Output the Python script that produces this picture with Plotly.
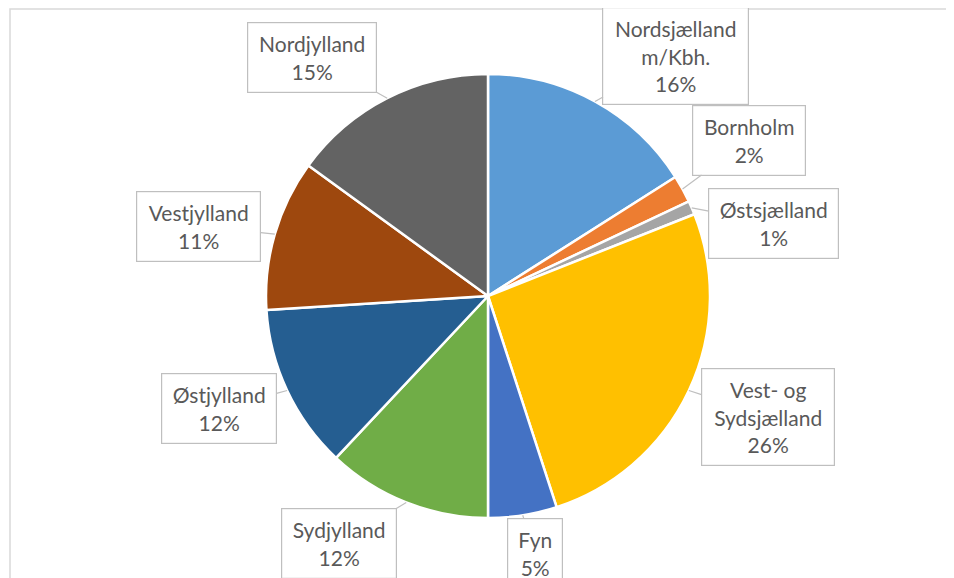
import math
import plotly.graph_objects as go

# regions and shares (%)
regions = ['Nordsjælland<br>m/Kbh.', 'Bornholm', 'Østsjælland', 'Vest- og<br>Sydsjælland',
           'Fyn', 'Sydjylland', 'Østjylland', 'Vestjylland', 'Nordjylland']
shares = [16, 2, 1, 26, 5, 12, 12, 11, 15]
colors = ['#5B9BD5', '#ED7D31', '#A5A5A5', '#FFC000', '#4472C4',
          '#70AD47', '#255E91', '#9E480E', '#636363']

# callout box offsets (px, from slice edge to box centre) and box widths
label_dx = [81, 66, 82, 79, 12, -67, -68, -76, -75]
label_dy = [-45, -49, 16, 26, 38, 41, 18, -8, -41]
box_w = [147, 114, 131, 134, 56, 116, 116, 125, 130]

# page body has an 8px margin: make the figure 8px larger so it still
# reaches the window edge, and use figure coords = screen coords - 8
W, H = 962, 586
cx, cy, R = 480, 288, 222

fig = go.Figure(go.Pie(
    labels=[r.replace('<br>', ' ') for r in regions],
    values=shares,
    sort=False,
    direction='clockwise',
    rotation=0,
    textinfo='none',
    marker=dict(colors=colors, line=dict(color='white', width=2.5)),
    domain=dict(x=[(cx - R) / W, (cx + R) / W], y=[(H - cy - R) / H, (H - cy + R) / H]),
    showlegend=False,
))

total = sum(shares)
cum = 0
for i, (name, v) in enumerate(zip(regions, shares)):
    mid = (cum + v / 2) / total * 2 * math.pi
    cum += v
    px = cx + R * math.sin(mid)
    py = cy - R * math.cos(mid)
    fig.add_annotation(
        x=px / W, y=1 - py / H, xref='paper', yref='paper',
        text=f'{name}<br>{round(v / total * 100)}%',
        showarrow=True, arrowhead=0, arrowwidth=1.2, arrowcolor='#BFBFBF',
        ax=label_dx[i], ay=label_dy[i],
        bgcolor='white', bordercolor='#BFBFBF', borderwidth=1.2, borderpad=8,
        width=box_w[i] - 18, align='center',
        font=dict(family='Lato', size=21, color='#595959'),
    )

# chart area frame (cropped on right/bottom)
fig.add_shape(type='rect', xref='paper', yref='paper',
              x0=2 / W, x1=1.02, y0=-0.02, y1=1 - 1 / H,
              line=dict(color='#D9D9D9', width=1.5))

fig.update_layout(
    width=W, height=H,
    margin=dict(l=0, r=0, t=0, b=0),
    paper_bgcolor='white',
    plot_bgcolor='white',
)

fig.write_html('out.html')
